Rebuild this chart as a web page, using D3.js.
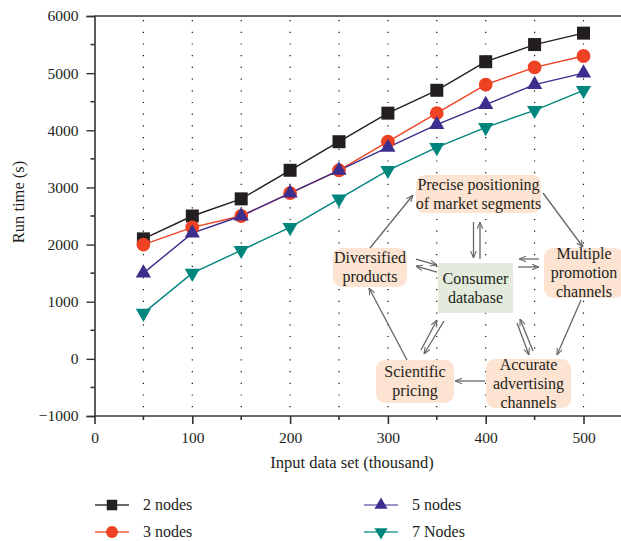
<!DOCTYPE html>
<html>
<head>
<meta charset="utf-8">
<script src="https://cdn.jsdelivr.net/npm/d3@7"></script>
<style>
  body { margin: 0; background: #fff; }
  text { font-family: "Liberation Serif", "DejaVu Serif", serif; fill: #231f20; }
</style>
</head>
<body>
<div id="chart"></div>
<script>
const inputSizes = [50, 100, 150, 200, 250, 300, 350, 400, 450, 500];
const nodes2 = [2100, 2500, 2800, 3300, 3800, 4300, 4700, 5200, 5500, 5700];
const nodes3 = [2000, 2300, 2500, 2900, 3300, 3800, 4300, 4800, 5100, 5300];
const nodes5 = [1500, 2200, 2500, 2900, 3300, 3700, 4100, 4450, 4800, 5000];
const nodes7 = [800, 1500, 1900, 2300, 2800, 3300, 3700, 4050, 4350, 4700];
const seriesNames = ["2 nodes", "3 nodes", "5 nodes", "7 Nodes"];
const xTicks = [0, 100, 200, 300, 400, 500];
const yTicks = [-1000, 0, 1000, 2000, 3000, 4000, 5000, 6000];

const W = 621, H = 541;
const plotLeft = 94.5, plotTop = 16, plotBottom = 416;

const svg = d3.select("#chart").append("svg")
  .attr("width", W).attr("height", H);

const x = d3.scaleLinear().domain([0, 500]).range([plotLeft, 583.5]);
const y = d3.scaleLinear().domain([-1000, 6000]).range([plotBottom, plotTop]);

const series = [
  { name: seriesNames[0], values: nodes2, color: "#231f20", legend: "#3a3536", shape: "square" },
  { name: seriesNames[1], values: nodes3, color: "#ef4123", legend: "#f0603f", shape: "circle" },
  { name: seriesNames[2], values: nodes5, color: "#3b2e8c", legend: "#7a6fb8", shape: "up" },
  { name: seriesNames[3], values: nodes7, color: "#00857d", legend: "#2c9a93", shape: "down" }
];

// dotted vertical guides
svg.append("g").selectAll("line")
  .data(inputSizes)
  .enter().append("line")
  .attr("x1", d => x(d)).attr("x2", d => x(d))
  .attr("y1", plotTop + 4).attr("y2", plotBottom)
  .attr("stroke", "#111")
  .attr("stroke-width", 1.2)
  .attr("stroke-dasharray", "1.2,10.5");

// axes
const axisColor = "#333";
const yAxis = svg.append("g")
  .attr("transform", `translate(${plotLeft},0)`)
  .call(d3.axisLeft(y).tickValues(yTicks).tickSize(8).tickPadding(8).tickFormat(d => d < 0 ? "\u2212" + Math.abs(d) : d));
yAxis.append("g").selectAll("line")
  .data(d3.range(-500, 6000, 1000))
  .enter().append("line")
  .attr("x1", -4).attr("x2", 0)
  .attr("y1", d => y(d)).attr("y2", d => y(d));

const xAxis = svg.append("g")
  .attr("transform", `translate(0,${plotBottom})`)
  .call(d3.axisBottom(x).tickValues(xTicks).tickSize(8).tickPadding(8));
xAxis.select(".domain").attr("d", `M${plotLeft},0H${W}`);
xAxis.append("g").selectAll("line")
  .data(d3.range(50, 550, 100))
  .enter().append("line")
  .attr("x1", d => x(d)).attr("x2", d => x(d))
  .attr("y1", 0).attr("y2", 4);

[xAxis, yAxis].forEach(a => {
  a.selectAll("line, path").attr("stroke", axisColor).attr("stroke-width", 1.6);
  a.selectAll("text").style("font-size", "15.5px").style("font-family", "Liberation Serif").attr("fill", "#231f20");
});
yAxis.selectAll(".tick line").attr("stroke-width", 1.4);

// top frame
svg.append("line")
  .attr("x1", plotLeft).attr("x2", W)
  .attr("y1", plotTop).attr("y2", plotTop)
  .attr("stroke", axisColor).attr("stroke-width", 1.6);

// axis labels
svg.append("text")
  .attr("x", 352).attr("y", 468)
  .attr("text-anchor", "middle")
  .style("font-size", "16.5px")
  .text("Input data set (thousand)");

svg.append("text")
  .attr("transform", "translate(24,202) rotate(-90)")
  .attr("text-anchor", "middle")
  .style("font-size", "16.5px")
  .text("Run time (s)");

// markers
function marker(shape) {
  if (shape === "square") return d3.symbol(d3.symbolSquare, 169)();
  if (shape === "circle") return d3.symbol(d3.symbolCircle, 150)();
  return d3.symbol(d3.symbolTriangle, 100)();
}

const line = d3.line()
  .x((d, i) => x(inputSizes[i]))
  .y(d => y(d));

series.forEach(s => {
  svg.append("path")
    .datum(s.values)
    .attr("fill", "none")
    .attr("stroke", s.color)
    .attr("stroke-width", 1.4)
    .attr("d", line);
});

series.forEach(s => {
  svg.append("g").selectAll("path")
    .data(s.values)
    .enter().append("path")
    .attr("d", marker(s.shape))
    .attr("transform", (d, i) => `translate(${x(inputSizes[i])},${y(d)})` + (s.shape === "down" ? " rotate(180)" : ""))
    .attr("fill", s.color);
});

// inset diagram
svg.append("defs").append("marker")
  .attr("id", "arr")
  .attr("viewBox", "0 0 10 10")
  .attr("refX", 10).attr("refY", 5)
  .attr("markerWidth", 7).attr("markerHeight", 7)
  .attr("markerUnits", "userSpaceOnUse")
  .attr("orient", "auto")
  .append("path")
  .attr("d", "M0,1L10,5L0,9")
  .attr("fill", "none")
  .attr("stroke", "#666")
  .attr("stroke-width", 1.5);

const boxes = [
  { lines: ["Precise positioning", "of market segments"], x: 416, y: 175, w: 125, h: 38, fill: "#fde3d2" },
  { lines: ["Diversified", "products"], x: 333, y: 248, w: 74, h: 39, fill: "#fde3d2" },
  { lines: ["Consumer", "database"], x: 438, y: 263, w: 75, h: 50, fill: "#e4ebdc" },
  { lines: ["Multiple", "promotion", "channels"], x: 544, y: 248, w: 80, h: 50, fill: "#fde3d2" },
  { lines: ["Scientific", "pricing"], x: 376, y: 360, w: 78, h: 43, fill: "#fde3d2" },
  { lines: ["Accurate", "advertising", "channels"], x: 486, y: 359, w: 85, h: 49, fill: "#fde3d2" }
];

const arrows = [
  [370, 248, 413, 195], [543, 193, 583, 247], [581, 300, 557, 355],
  [485, 381, 455, 381], [407, 360, 369, 288],
  [473.5, 222, 473.5, 258], [480, 259, 480, 222],
  [416, 259, 437, 265], [437, 272, 416, 266],
  [539, 259, 519, 259], [518, 267, 539, 267],
  [421, 350, 437, 320], [444, 321, 424, 354],
  [517, 323, 529, 355], [533, 351, 520, 319]
];

const boxG = svg.append("g").selectAll("g")
  .data(boxes)
  .enter().append("g");

boxG.append("rect")
  .attr("x", d => d.x).attr("y", d => d.y)
  .attr("width", d => d.w).attr("height", d => d.h)
  .attr("rx", d => d.fill === "#e4ebdc" ? 0 : 9)
  .attr("fill", d => d.fill);

boxG.each(function(d) {
  const lh = 19;
  const cy = d.y + d.h / 2 - (d.lines.length - 1) * lh / 2;
  d3.select(this).selectAll("text")
    .data(d.lines)
    .enter().append("text")
    .attr("x", d.x + d.w / 2)
    .attr("y", (t, i) => cy + i * lh)
    .attr("dy", "0.33em")
    .attr("text-anchor", "middle")
    .style("font-size", "16px")
    .text(t => t);
});

svg.append("g").selectAll("line")
  .data(arrows)
  .enter().append("line")
  .attr("x1", d => d[0]).attr("y1", d => d[1])
  .attr("x2", d => d[2]).attr("y2", d => d[3])
  .attr("stroke", "#666")
  .attr("stroke-width", 1.3)
  .attr("marker-end", "url(#arr)");

// legend
const legendPos = [[95, 505], [95, 532], [364, 505], [364, 532]];
const legend = svg.append("g").selectAll("g")
  .data(series)
  .enter().append("g")
  .attr("transform", (d, i) => `translate(${legendPos[i][0]},${legendPos[i][1]})`);

legend.append("line")
  .attr("x1", 0).attr("x2", 34)
  .attr("stroke", d => d.legend)
  .attr("stroke-width", 1.6);

legend.append("path")
  .attr("d", d => d.shape === "square" ? d3.symbol(d3.symbolSquare, 110)() :
    d.shape === "circle" ? d3.symbol(d3.symbolCircle, 110)() : d3.symbol(d3.symbolTriangle, 75)())
  .attr("transform", d => "translate(17,0)" + (d.shape === "down" ? " rotate(180)" : ""))
  .attr("fill", d => d.color);

legend.append("text")
  .attr("x", 48).attr("dy", "0.33em")
  .style("font-size", "16px")
  .text(d => d.name);
</script>
</body>
</html>
